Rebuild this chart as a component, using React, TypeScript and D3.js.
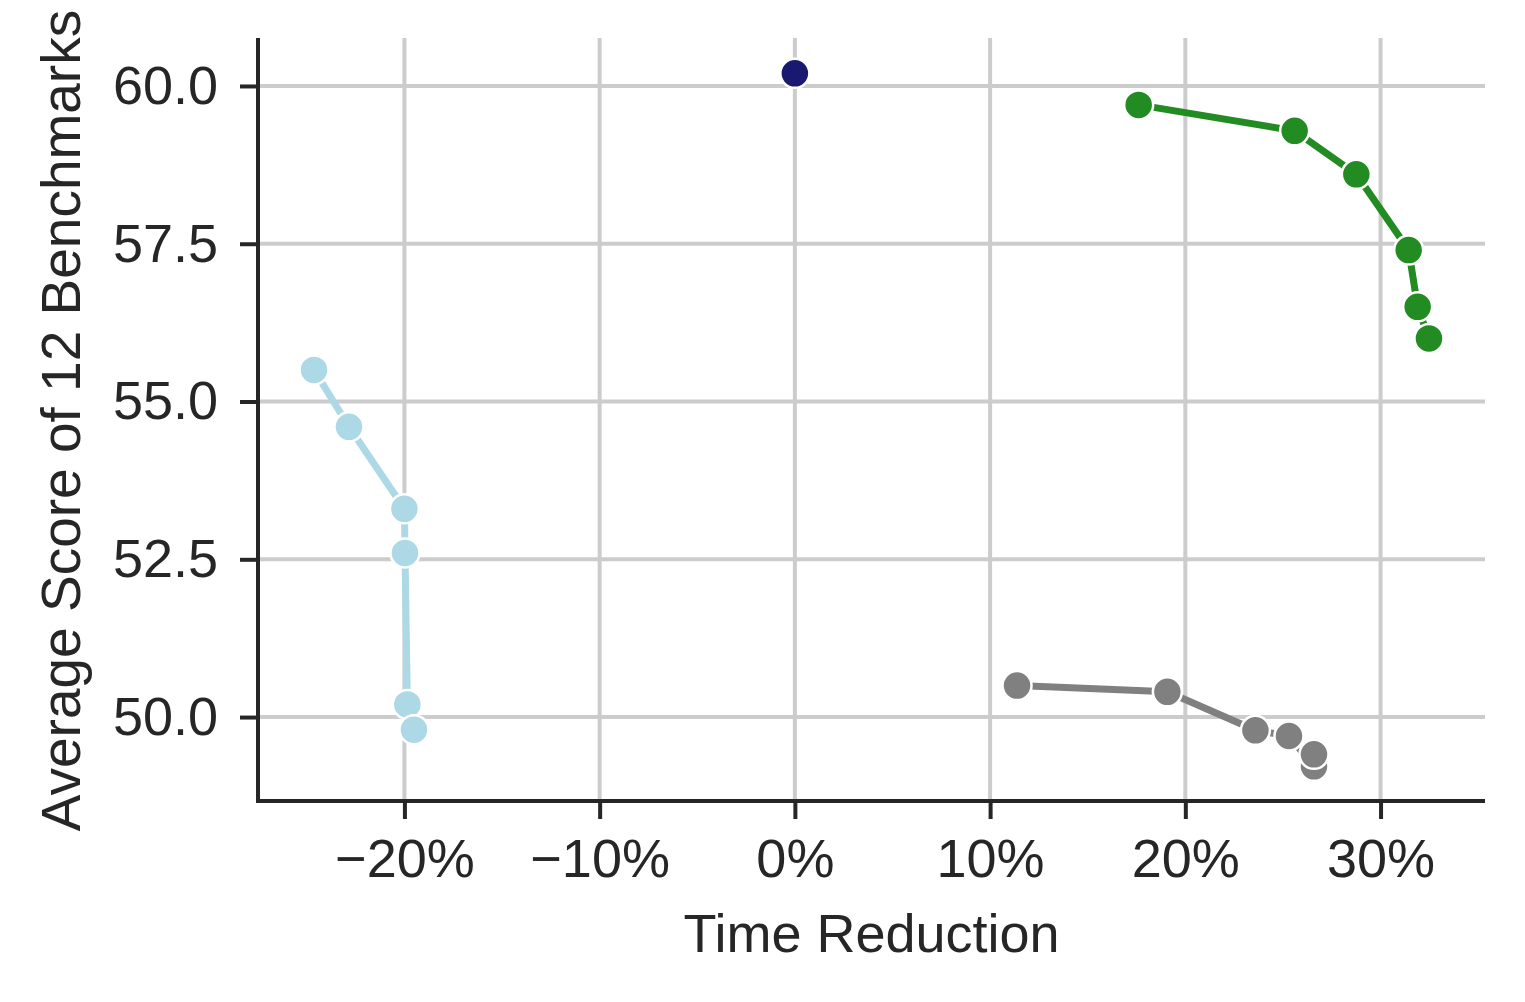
import React, { useEffect, useRef } from 'react';
import * as d3 from 'd3';

// time reduction (%) and average score
const baseX = [0];
const baseY = [60.2];

const blueX = [-24.63, -22.84, -20.0, -19.97, -19.85, -19.51];
const blueY = [55.5, 54.6, 53.3, 52.6, 50.2, 49.8];

const greenX = [17.61, 25.6, 28.76, 31.44, 31.9, 32.48];
const greenY = [59.7, 59.29, 58.6, 57.4, 56.5, 56.0];

const grayX = [11.38, 19.08, 23.59, 25.31, 26.59, 26.59];
const grayY = [50.5, 50.4, 49.79, 49.7, 49.22, 49.41];

const xTicks = [-20, -10, 0, 10, 20, 30];
const yTicks = [50, 52.5, 55, 57.5, 60];

const series = [
  { name: 'base', xs: baseX, ys: baseY, color: '#191970' },
  { name: 'blue', xs: blueX, ys: blueY, color: '#add8e6' },
  { name: 'green', xs: greenX, ys: greenY, color: '#228b22' },
  { name: 'gray', xs: grayX, ys: grayY, color: '#808080' },
];

const W = 1525;
const H = 1002;
const FONT = '"Liberation Sans", Arial, sans-serif';
const INK = '#262626';

const App = () => {
  const svgRef = useRef(null);

  useEffect(() => {
    const svg = d3.select(svgRef.current);
    svg.selectAll('*').remove();

    const left = 258, right = 1485, top = 38, bottom = 801;

    const x = d3.scaleLinear().domain([-27.5, 35.35]).range([left, right]);
    const y = d3.scaleLinear().domain([48.67, 60.76]).range([bottom, top]);

    const g = svg.append('g');

    // grid
    g.append('g')
      .selectAll('line')
      .data(xTicks)
      .enter().append('line')
      .attr('x1', d => x(d)).attr('x2', d => x(d))
      .attr('y1', top).attr('y2', bottom)
      .attr('stroke', '#cccccc').attr('stroke-width', 4);

    g.append('g')
      .selectAll('line')
      .data(yTicks)
      .enter().append('line')
      .attr('x1', left).attr('x2', right)
      .attr('y1', d => y(d)).attr('y2', d => y(d))
      .attr('stroke', '#cccccc').attr('stroke-width', 4);

    // series
    const line = d3.line<[number, number]>()
      .x(d => x(d[0]))
      .y(d => y(d[1]));

    series.forEach(s => {
      const pts: [number, number][] = s.xs.map((v, i) => [v, s.ys[i]]);
      const sg = g.append('g');
      if (pts.length > 1) {
        sg.append('path')
          .attr('d', line(pts))
          .attr('fill', 'none')
          .attr('stroke', s.color)
          .attr('stroke-width', 7)
          .attr('stroke-linejoin', 'round');
      }
      sg.selectAll('circle')
        .data(pts)
        .enter().append('circle')
        .attr('cx', d => x(d[0]))
        .attr('cy', d => y(d[1]))
        .attr('r', 14.5)
        .attr('fill', s.color)
        .attr('stroke', '#ffffff')
        .attr('stroke-width', 2.5);
    });

    // axes
    const xAxis = g.append('g')
      .attr('transform', `translate(0,${bottom})`)
      .call(d3.axisBottom(x)
        .tickValues(xTicks)
        .tickSize(18)
        .tickPadding(20)
        .tickFormat(d => `${(+d < 0 ? '\u2212' : '')}${Math.abs(+d)}%`));

    const yAxis = g.append('g')
      .attr('transform', `translate(${left},0)`)
      .call(d3.axisLeft(y)
        .tickValues(yTicks)
        .tickSize(18)
        .tickPadding(22)
        .tickFormat(d3.format('.1f')));

    [xAxis, yAxis].forEach(a => {
      a.select('.domain').remove();
      a.selectAll('.tick line').attr('stroke', INK).attr('stroke-width', 4);
      a.selectAll('.tick text')
        .attr('fill', INK)
        .attr('font-family', FONT)
        .attr('font-size', 54);
    });

    // spines (left + bottom only)
    g.append('line')
      .attr('x1', left).attr('x2', left)
      .attr('y1', top).attr('y2', bottom + 2)
      .attr('stroke', INK).attr('stroke-width', 4);
    g.append('line')
      .attr('x1', left - 2).attr('x2', right)
      .attr('y1', bottom).attr('y2', bottom)
      .attr('stroke', INK).attr('stroke-width', 4);

    svg.append('text')
      .attr('x', (left + right) / 2)
      .attr('y', 952)
      .attr('text-anchor', 'middle')
      .attr('fill', INK)
      .attr('font-family', FONT)
      .attr('font-size', 54)
      .text('Time Reduction');

    svg.append('text')
      .attr('transform', `translate(80,${(top + bottom) / 2 + 1}) rotate(-90)`)
      .attr('text-anchor', 'middle')
      .attr('fill', INK)
      .attr('font-family', FONT)
      .attr('font-size', 55)
      .text('Average Score of 12 Benchmarks');
  }, []);

  return (
    <div style={{ position: 'absolute', left: 0, top: 0 }}>
      <svg ref={svgRef} width={W} height={H} style={{ display: 'block', background: '#fff' }}></svg>
    </div>
  );
};

export default App;
